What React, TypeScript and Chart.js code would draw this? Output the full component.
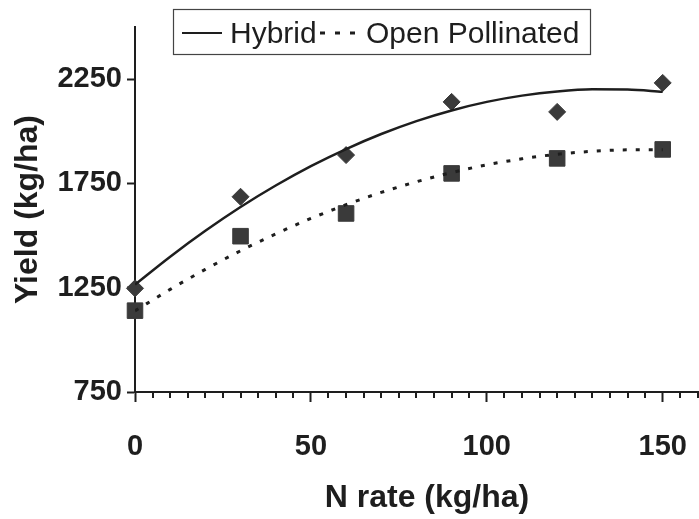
import React, { useEffect, useRef } from "react";
import { Chart, registerables } from "chart.js";

Chart.register(...registerables);

// ---- Data ----
const nRates = [0, 30, 60, 90, 120, 150];
const hybridYield = [1247, 1686, 1886, 2141, 2093, 2232];
const openPollinatedYield = [1140, 1497, 1606, 1798, 1870, 1913];

const fitRates = [0, 10, 20, 30, 40, 50, 60, 70, 80, 90, 100, 110, 120, 130, 140, 150];
const hybridFit = [1265, 1399, 1523, 1637, 1740, 1833, 1915, 1987, 2049, 2100, 2141, 2171, 2191, 2201, 2200, 2189];
const openPollinatedFit = [1139, 1242, 1338, 1427, 1508, 1582, 1648, 1707, 1758, 1802, 1839, 1868, 1890, 1904, 1911, 1911];

const xMajorTicks = [0, 50, 100, 150];
const xMinorStep = 5;
const yTicks = [750, 1250, 1750, 2250];

const legendLabels = ["Hybrid", "Open Pollinated"];
const xTitle = "N rate (kg/ha)";
const yTitle = "Yield (kg/ha)";

// ---- Styles ----
const FONT = '"Liberation Sans", Arial, Helvetica, sans-serif';
const INK = "#1e1e1e";
const MARK = "#3a3a3a";

const minorTickPlugin = {
  id: "minorTicks",
  beforeDatasetsDraw(chart: any) {
    const s = chart.scales.x;
    const ctx = chart.ctx;
    ctx.save();
    ctx.strokeStyle = INK;
    ctx.lineWidth = 2;
    ctx.setLineDash([]);
    ctx.beginPath();
    for (let v = s.min; v <= s.max; v += xMinorStep) {
      if (xMajorTicks.includes(v)) continue;
      const px = Math.round(s.getPixelForValue(v));
      ctx.moveTo(px, s.top + 1);
      ctx.lineTo(px, s.top + 6);
    }
    ctx.stroke();
    ctx.restore();
  },
};

const legendPlugin = {
  id: "boxLegend",
  afterDraw(chart: any) {
    const { ctx, chartArea } = chart;
    const x0 = chartArea.left + 38;
    const y0 = chartArea.top - 18;
    const w = 417;
    const h = 45;
    ctx.save();
    ctx.fillStyle = "#ffffff";
    ctx.fillRect(x0, y0, w, h);
    ctx.strokeStyle = "#444";
    ctx.lineWidth = 1.2;
    ctx.strokeRect(x0 + 0.5, y0 + 0.5, w, h);
    const cy = y0 + 24;
    // Hybrid sample (solid)
    ctx.strokeStyle = INK;
    ctx.lineWidth = 2;
    ctx.setLineDash([]);
    ctx.beginPath();
    ctx.moveTo(x0 + 9, cy);
    ctx.lineTo(x0 + 49, cy);
    ctx.stroke();
    ctx.font = `30px ${FONT}`;
    ctx.fillStyle = INK;
    ctx.textBaseline = "alphabetic";
    ctx.textAlign = "left";
    ctx.fillText(legendLabels[0], x0 + 57, cy + 10);
    // Open pollinated sample (dotted)
    ctx.lineWidth = 3;
    ctx.setLineDash([5, 10]);
    ctx.beginPath();
    ctx.moveTo(x0 + 147, cy);
    ctx.lineTo(x0 + 189, cy);
    ctx.stroke();
    ctx.setLineDash([]);
    ctx.fillText(legendLabels[1], x0 + 193, cy + 10);
    ctx.restore();
  },
};

export default function App() {
  const canvasRef = useRef<HTMLCanvasElement | null>(null);

  useEffect(() => {
    if (!canvasRef.current) return;
    Chart.defaults.font.family = FONT;
    const chart = new Chart(canvasRef.current, {
      type: "scatter",
      data: {
        datasets: [
          {
            label: "Hybrid fit",
            data: fitRates.map((x, i) => ({ x, y: hybridFit[i] })),
            showLine: true,
            borderColor: INK,
            borderWidth: 2.5,
            pointRadius: 0,
            cubicInterpolationMode: "monotone",
            fill: false,
          },
          {
            label: "Open Pollinated fit",
            data: fitRates.map((x, i) => ({ x, y: openPollinatedFit[i] })),
            showLine: true,
            borderColor: INK,
            borderWidth: 3,
            borderDash: [4, 9],
            pointRadius: 0,
            cubicInterpolationMode: "monotone",
            fill: false,
          },
          {
            label: legendLabels[0],
            data: nRates.map((x, i) => ({ x, y: hybridYield[i] })),
            showLine: false,
            pointStyle: "rectRot",
            pointRadius: 8.5,
            backgroundColor: MARK,
            borderColor: MARK,
            borderWidth: 1,
            clip: false,
          },
          {
            label: legendLabels[1],
            data: nRates.map((x, i) => ({ x, y: openPollinatedYield[i] })),
            showLine: false,
            pointStyle: "rect",
            pointRadius: 11,
            backgroundColor: MARK,
            borderColor: MARK,
            borderWidth: 1,
            clip: false,
          },
        ],
      },
      options: {
        animation: false,
        responsive: true,
        maintainAspectRatio: false,
        layout: { padding: { top: 27, right: 0, bottom: 0, left: 0 } },
        plugins: {
          legend: { display: false },
          tooltip: { enabled: false },
        },
        scales: {
          x: {
            type: "linear",
            min: 0,
            max: 166,
            afterBuildTicks: (s: any) => {
              s.ticks = xMajorTicks.map((v) => ({ value: v }));
            },
            afterFit: (s: any) => {
              s.height = 127;
              s.paddingLeft = 0;
              s.paddingRight = 0;
            },
            ticks: {
              autoSkip: false,
              maxRotation: 0,
              padding: 28,
              color: INK,
              font: { size: 29, weight: "bold" },
              callback: (v: any) => String(v),
            },
            grid: {
              drawOnChartArea: false,
              drawTicks: true,
              tickLength: 10,
              tickWidth: 2,
              tickColor: INK,
            },
            border: { display: true, color: INK, width: 2 },
            title: {
              display: true,
              text: xTitle,
              color: INK,
              font: { size: 32, weight: "bold" },
              padding: { top: 0, bottom: 2 },
            },
          },
          y: {
            type: "linear",
            min: 750,
            max: 2500,
            afterBuildTicks: (s: any) => {
              s.ticks = yTicks.map((v) => ({ value: v }));
            },
            afterFit: (s: any) => {
              s.width = 135;
            },
            ticks: {
              padding: 5,
              color: INK,
              font: { size: 29, weight: "bold" },
              callback: (v: any) => String(v),
            },
            grid: {
              drawOnChartArea: false,
              tickLength: 8,
              tickWidth: 2,
              tickColor: INK,
            },
            border: { display: true, color: INK, width: 2 },
            title: {
              display: true,
              text: yTitle,
              color: INK,
              font: { size: 32, weight: "bold" },
              padding: { top: 9, bottom: 0 },
            },
          },
        },
      },
      plugins: [minorTickPlugin, legendPlugin],
    } as any);
    return () => chart.destroy();
  }, []);

  return (
    <div
      style={{
        position: "fixed",
        left: 0,
        top: 0,
        width: 699,
        height: 519,
        overflow: "hidden",
        background: "#ffffff",
      }}
    >
      <div style={{ position: "relative", width: 731, height: 519 }}>
        <canvas ref={canvasRef} />
      </div>
    </div>
  );
}
